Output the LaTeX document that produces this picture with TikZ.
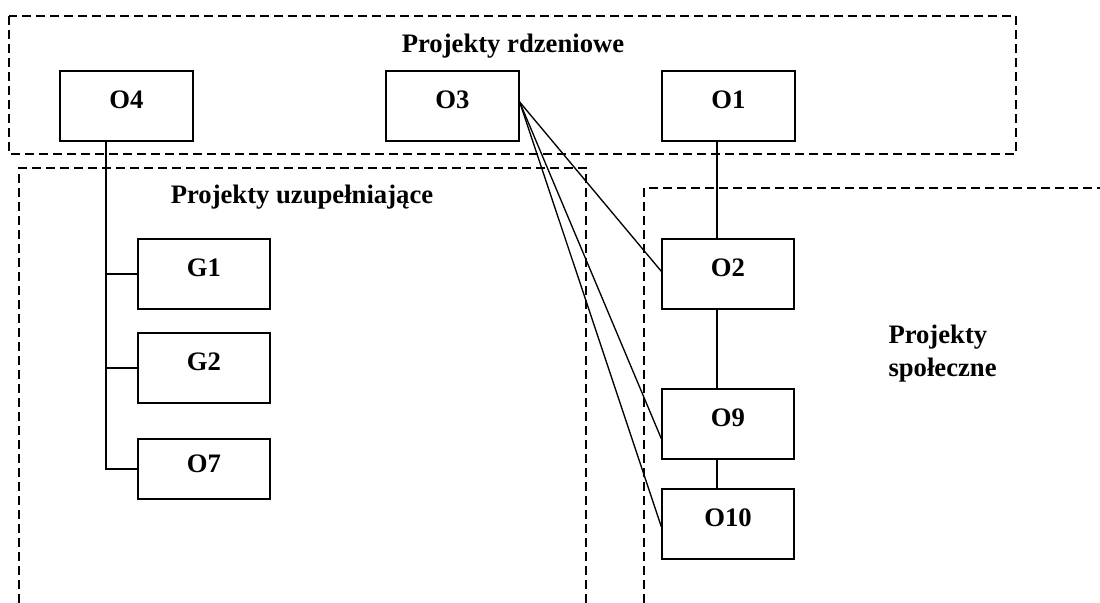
\documentclass[tikz,border=0pt]{standalone}
\usepackage{fontspec}
\setmainfont{Liberation Serif}
\usetikzlibrary{positioning}

\tikzset{every picture/.style={line width=0.75pt}}
\tikzset{
  projbox/.style={draw, line width=1pt, rectangle, inner sep=0pt,
    minimum width=99.75pt, minimum height=52.5pt,
    text height=13.5pt, text depth=10.5pt,
    font=\fontsize{20}{24}\selectfont\bfseries},
  grouplabel/.style={font=\fontsize{20}{24.75}\selectfont\bfseries, inner sep=0pt},
  zone/.style={dash pattern=on 6.5pt off 4pt, line width=1pt},
  link/.style={line width=1pt}
}

\begin{document}
\begin{tikzpicture}[x=0.75pt,y=0.75pt,yscale=-1]
\useasboundingbox (0,0) rectangle (1100,603);
%Dashed zones
\draw [zone] (9,16) rectangle (1016,154) ;
\draw [zone] (19,603) -- (19,168) -- (586,168) -- (586,603) ;
\draw [zone] (644,603) -- (644,188) -- (1100,188) ;
%Zone labels
\node [grouplabel, anchor=base] (lblcore) at (513,52) {Projekty rdzeniowe};
\node [grouplabel, anchor=base] (lblsupp) at (302,203) {Projekty uzupełniające};
\node [grouplabel, anchor=base west, align=left] (lblsoc) at (888,376) {Projekty\\społeczne};
%Core projects
\node [projbox] (O4) at (126.5,106) {O4};
\node [projbox] (O3) at (452.5,106) {O3};
\node [projbox] (O1) at (728.5,106) {O1};
%Supplementary projects
\node [projbox, minimum width=99pt] (G1) at (204,274) {G1};
\node [projbox, minimum width=99pt] (G2) at (204,368) {G2};
\node [projbox, minimum width=99pt, minimum height=45pt, text depth=9pt] (O7) at (204,469) {O7};
%Social projects
\node [projbox, minimum width=99pt] (O2) at (728,274) {O2};
\node [projbox, minimum width=99pt] (O9) at (728,424) {O9};
\node [projbox, minimum width=99pt] (O10) at (728,524) {O10};
%Tree under O4
\coordinate (trunk) at (106,0);
\draw [link] (O4.south -| trunk) -- (trunk |- O7.west) -- (O7.west) ;
\draw [link] (trunk |- G1.west) -- (G1.west) ;
\draw [link] (trunk |- G2.west) -- (G2.west) ;
%Chain O1 - O2 - O9 - O10
\coordinate (spine) at (717,0);
\draw [link] (O1.south -| spine) -- (O2.north -| spine) ;
\draw [link] (O2.south -| spine) -- (O9.north -| spine) ;
\draw [link] (O9.south -| spine) -- (O10.north -| spine) ;
%Links from O3
\coordinate (hub) at ([yshift=-3pt]O3.east);
\draw [link] (hub) -- ([yshift=-2pt]O2.west) ;
\draw [link] (hub) -- ([yshift=11pt]O9.west) ;
\draw [link] (hub) -- ([yshift=2pt]O10.west) ;
\end{tikzpicture}
\end{document}
